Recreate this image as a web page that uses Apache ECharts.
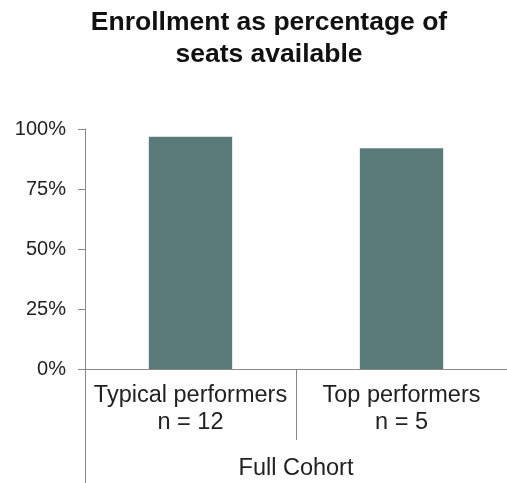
<!DOCTYPE html>
<html>
<head>
<meta charset="utf-8">
<script src="https://cdn.jsdelivr.net/npm/echarts@6/dist/echarts.min.js"></script>
<style>html,body{margin:0;padding:0;background:#fff}#c{width:507px;height:483px}</style>
</head>
<body>
<div id="c"></div>
<script>
var titleText = 'Enrollment as percentage of\nseats available';
var categories = ['Typical performers', 'Top performers'];
var counts = [12, 5];
var groupLabels = ['Full Cohort'];
var enrollmentPct = [0.968, 0.92];
var yTicks = [0, 0.25, 0.5, 0.75, 1];

var axisColor = '#898989';
var textColor = '#222222';
var chart = echarts.init(document.getElementById('c'), null, {renderer: 'canvas'});
chart.setOption({
  animation: false,
  backgroundColor: '#ffffff',
  title: {
    text: titleText,
    left: 264,
    textAlign: 'center',
    top: 2,
    textStyle: {fontFamily: 'Liberation Sans, Arial', fontWeight: 'bold', fontSize: 26.5, lineHeight: 32, color: '#111111'}
  },
  grid: {left: 85, top: 129, width: 428, height: 240, containLabel: false},
  xAxis: [{
    type: 'category',
    data: categories.map(function (c, i) { return c + '\nn = ' + counts[i]; }),
    position: 'bottom',
    boundaryGap: true,
    axisLine: {show: true, lineStyle: {color: axisColor, width: 1}},
    axisTick: {show: true, length: 71, interval: 0, lineStyle: {color: axisColor, width: 1}},
    axisLabel: {interval: 0, margin: 13, fontFamily: 'Liberation Sans, Arial', fontSize: 23.5, lineHeight: 27, color: textColor}
  }, {
    type: 'category',
    data: groupLabels,
    position: 'bottom',
    offset: 71,
    boundaryGap: true,
    axisLine: {show: false},
    axisTick: {show: true, length: 50, interval: 0, lineStyle: {color: axisColor, width: 1}},
    axisLabel: {interval: 0, margin: 17, fontFamily: 'Liberation Sans, Arial', fontSize: 23.5, color: textColor}
  }],
  yAxis: {
    type: 'value',
    min: yTicks[0],
    max: yTicks[yTicks.length - 1],
    interval: yTicks[1] - yTicks[0],
    axisLine: {show: true, lineStyle: {color: axisColor, width: 1}},
    axisTick: {show: true, length: 7, lineStyle: {color: axisColor, width: 1}},
    splitLine: {show: false},
    axisLabel: {
      margin: 19,
      fontFamily: 'Liberation Sans, Arial', fontSize: 20, color: textColor,
      formatter: function (v) { return Math.round(v * 100) + '%'; }
    }
  },
  series: [{
    type: 'bar',
    xAxisIndex: 0,
    data: enrollmentPct,
    barWidth: '39.5%',
    itemStyle: {color: '#5b7b7a'}
  }]
});
</script>
</body>
</html>
